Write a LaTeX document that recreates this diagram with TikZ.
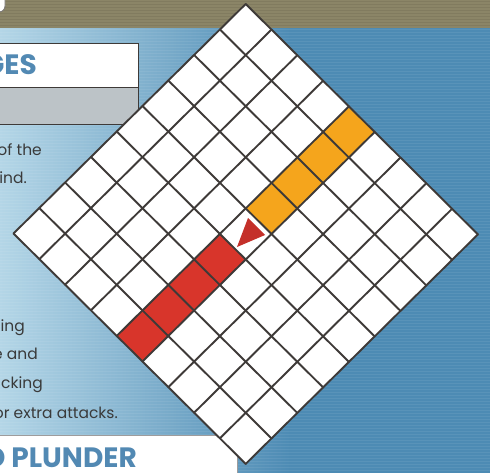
\documentclass[tikz,border=0pt]{standalone}
\usepackage{fontspec}
\setmainfont{Poppins}
\definecolor{bgblue}{HTML}{4D8BB4}
\definecolor{panelL}{HTML}{B4D6E7}
\definecolor{bandolive}{HTML}{8B8567}
\definecolor{linegray}{HTML}{3E3A38}
\definecolor{barfill}{HTML}{BCC3C7}
\definecolor{headblue}{HTML}{5289B3}
\definecolor{bodytext}{HTML}{3A3A3A}
\definecolor{cellorange}{HTML}{F5A51C}
\definecolor{cellred}{HTML}{D8352B}
\definecolor{trired}{HTML}{C4302A}
\begin{document}
\begin{tikzpicture}[x=1pt,y=-1pt,
  heading/.style={font=\fontsize{28}{30}\selectfont\bfseries, text=headblue, inner sep=0pt},
  body/.style={font=\fontsize{15.5}{18}\selectfont, text=bodytext, inner sep=0pt},
  gridline/.style={draw=linegray, line width=1.9pt, line cap=round}]
\useasboundingbox (0,0) rectangle (490,473);
\clip (0,0) rectangle (490,473);
% background
\fill[bgblue] (0,0) rectangle (490,473);
\shade[left color=panelL, right color=bgblue] (0,28) rectangle (290,473);
\foreach \yy in {29,32,...,473} \draw[white, opacity=0.07, line width=0.6pt] (0,\yy) -- (490,\yy);
\fill[bandolive] (0,0) rectangle (490,28);
\foreach \yy in {1,4,...,27} \draw[black, opacity=0.07, line width=0.6pt] (0,\yy) -- (490,\yy);
% top-left rounded white piece
\filldraw[fill=white, draw=linegray!70, line width=0.8pt, rounded corners=6pt] (-20,-8) rectangle (5,12);
% header box
\filldraw[fill=white, draw=linegray, line width=0.8pt] (-2,43) rectangle (138,87);
\filldraw[fill=barfill, draw=linegray, line width=0.8pt] (-2,87) rectangle (138,124);
\node[heading, anchor=base east] (ges) at (37,75) {GES};
% body text
\node[body, anchor=base east] (t1) at (42,156) {of the};
\node[body, anchor=base east] (t2) at (27,184) {ind.};
\node[body, anchor=base east] (t3) at (25,331) {ting};
\node[body, anchor=base east] (t4) at (38,359) {e and};
\node[body, anchor=base east] (t5) at (43,388) {acking};
\node[body, anchor=base east] (t6) at (118,418) {or extra attacks.};
% bottom header box
\filldraw[fill=white, draw=linegray!50, line width=0.5pt] (-2,435) rectangle (237,480);
\node[heading, anchor=base east] (plunder) at (137,467) {D PLUNDER};
% diamond grid
\begin{scope}[shift={(13.5,233.5)}, x={(25.8pt,25.5pt)}, y={(25.8pt,-25.6pt)}]
  \fill[white] (0,0) -- (9,0) -- (9,9) -- (0,9) -- cycle;
  \foreach \u in {5,6,7,8} \fill[cellorange] (\u,4) -- (\u+1,4) -- (\u+1,5) -- (\u,5) -- cycle;
  \foreach \u in {0,1,2,3} \fill[cellred] (\u,4) -- (\u+1,4) -- (\u+1,5) -- (\u,5) -- cycle;
  \foreach \i in {0,...,9} {
    \draw[gridline] (0,\i) -- (9,\i);
    \draw[gridline] (\i,0) -- (\i,9);
  }
\end{scope}
% pointer triangle
\fill[trired] (248,218) -- (237,247) -- (265,235) -- cycle;
\end{tikzpicture}
\end{document}
